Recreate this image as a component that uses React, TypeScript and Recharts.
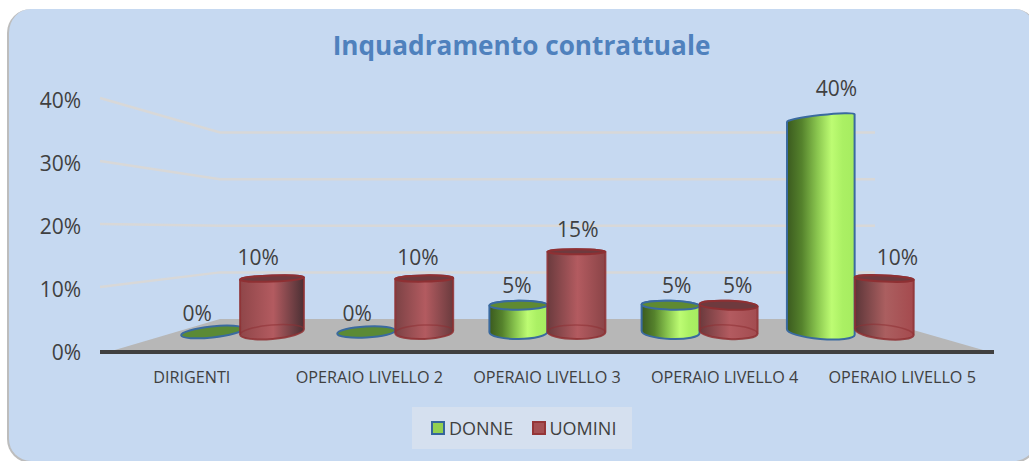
// App.tsx
// "Inquadramento contrattuale" - 3D look cylinders on a tilted floor.
// Front axes carry labels, hidden axes place the bars further back in the scene.

import { BarChart, Bar, CartesianGrid, LabelList, Legend, XAxis, YAxis } from 'recharts';

const CATEGORIES = ['DIRIGENTI', 'OPERAIO LIVELLO 2', 'OPERAIO LIVELLO 3', 'OPERAIO LIVELLO 4', 'OPERAIO LIVELLO 5'];
const DONNE = [0, 0, 5, 5, 40];
const UOMINI = [10, 10, 15, 5, 10];
const Y_TICKS = [0, 10, 20, 30, 40];

const FONT = '"Open Sans", sans-serif';
const TEXT = '#404040';
const SCENE_CENTER = 548;
const FLOOR_BACK_Y = 319;
const AXIS_BOTTOM = 352;

const rows = CATEGORIES.map((name, i) => ({ name, donne: DONNE[i], uomini: UOMINI[i] }));

// red shading moves across the cylinder with the position in the scene
const RED_STOPS = [
  ['#8f4649', '#b35b60', '#4b3034'],
  ['#7c4245', '#b35b60', '#6a3b3e'],
  ['#6b3b3e', '#b35b60', '#8a4447'],
  ['#6b3a3d', '#b35b60', '#a24c50'],
  ['#5c3639', '#ab5f60', '#a54a4e'],
];

function endPoint(cx: number, cy: number, rx: number, deg: number, side: number) {
  const a = (deg * Math.PI) / 180;
  return { x: cx + side * rx * Math.cos(a), y: cy + side * rx * Math.sin(a) };
}

function Cylinder(props: any) {
  const { x, y, width, height, index, kind, value } = props;
  const v = Array.isArray(value) ? value[1] - value[0] : value;
  const d = x + width / 2 - SCENE_CENTER;
  // outer cylinders look a bit wider and further out in the perspective
  let left = x;
  let w = width;
  if (kind === 'donne' && d > 250) {
    left = x - 7;
    w = width + 10;
  } else if (kind === 'uomini' && d > 250) {
    left = x + 3;
    w = width + 1;
  } else if (kind === 'donne' && d < -250) {
    left = x - 4;
    w = width + 4;
  } else if (kind === 'uomini' && d < -250) {
    left = x - 3;
    w = width + 6;
  }
  const cx = left + w / 2;
  const rx = w / 2;
  const topY = y;
  const baseY = y + height;
  const dn = (cx - SCENE_CENTER) / 335;

  const baseTilt = dn * 6;
  const topTilt = v > 30 ? -6.5 : dn * 6 * (1 - v / 17);
  const baseRy = 7;
  const topRy = v > 30 ? 3 : Math.max(2.5, 5.7 - v * 0.26);

  const stroke = kind === 'donne' ? '#3a6a9f' : '#8e3033';
  const capFill = kind === 'donne' ? '#5f8a32' : '#6e3a3e';
  const bodyFill = kind === 'donne' ? 'url(#cyl-green)' : `url(#cyl-red-${index})`;

  if (v === 0) {
    return (
      <ellipse
        cx={cx}
        cy={baseY}
        rx={rx}
        ry={5.5}
        fill="#5b8a35"
        stroke={stroke}
        strokeWidth={2}
        transform={`rotate(${baseTilt} ${cx} ${baseY})`}
      />
    );
  }

  const tl = endPoint(cx, topY, rx, topTilt, -1);
  const tr = endPoint(cx, topY, rx, topTilt, 1);
  const bl = endPoint(cx, baseY, rx, baseTilt, -1);
  const br = endPoint(cx, baseY, rx, baseTilt, 1);

  const body =
    `M${tl.x},${tl.y} A${rx},${topRy} ${topTilt} 0 1 ${tr.x},${tr.y} ` +
    `L${br.x},${br.y} A${rx},${baseRy} ${baseTilt} 0 1 ${bl.x},${bl.y} Z`;
  const backArc = `M${bl.x},${bl.y} A${rx},${baseRy} ${baseTilt} 0 1 ${br.x},${br.y}`;

  return (
    <g>
      <path d={body} fill={bodyFill} stroke={stroke} strokeWidth={2} strokeOpacity={kind === 'donne' ? 1 : 0.85} strokeLinejoin="round" />
      {kind === 'uomini' && <path d={backArc} fill="none" stroke={stroke} strokeOpacity={0.55} strokeWidth={1.5} />}
      {v <= 30 && (
        <ellipse
          cx={cx}
          cy={topY}
          rx={rx}
          ry={topRy}
          fill={capFill}
          stroke={stroke}
          strokeWidth={2}
          transform={`rotate(${topTilt} ${cx} ${topY})`}
        />
      )}
    </g>
  );
}

function ValueLabel(props: any) {
  const { x, y, width, value } = props;
  const cx = x + width / 2;
  return (
    <text
      x={cx + (cx - SCENE_CENTER) * 0.05}
      y={y - (19 + value * 0.28)}
      textAnchor="middle"
      dominantBaseline="central"
      fontFamily={FONT}
      fontSize={21}
      fill={TEXT}
    >
      {value}%
    </text>
  );
}

// Walls and floor of the scene, bent from the front axis to the back plane.
function SceneLine(props: any) {
  const { x1, x2, y1 } = props;
  const backY = FLOOR_BACK_Y - (AXIS_BOTTOM - y1) * 0.74;
  if (y1 >= AXIS_BOTTOM - 1) {
    return <polygon points={`${x1 + 8},${y1} ${x1 + 120},${backY} ${x2 - 119},${backY} ${x2 - 4},${y1}`} fill="#b7b7b7" />;
  }
  return (
    <polyline
      points={`${x1},${y1 - 2} ${x1 + 120},${backY} ${x2 - 119},${backY}`}
      fill="none"
      stroke="#d8d8d8"
      strokeWidth={2.5}
    />
  );
}

function LegendBox({ payload }: any) {
  const colors: Record<string, { fill: string; stroke: string }> = {
    donne: { fill: '#92d04f', stroke: '#35659c' },
    uomini: { fill: '#a55053', stroke: '#953537' },
  };
  return (
    <div
      style={{
        width: 220,
        height: 42,
        background: '#d5e0ef',
        display: 'flex',
        alignItems: 'center',
        paddingLeft: 19,
        boxSizing: 'border-box',
        fontFamily: FONT,
        fontSize: 18,
        color: TEXT,
      }}
    >
      {(payload ?? []).map((p: any) => (
        <span key={p.dataKey} style={{ display: 'flex', alignItems: 'center', width: 101 }}>
          <span
            style={{
              width: 10,
              height: 10,
              marginRight: 4,
              background: colors[p.dataKey].fill,
              border: `2px solid ${colors[p.dataKey].stroke}`,
            }}
          />
          {p.value}
        </span>
      ))}
    </div>
  );
}

export default function App() {
  return (
    <div style={{ position: 'absolute', left: 0, top: 0, width: 1029, height: 461, overflow: 'hidden', background: '#fff' }}>
      <div
        style={{
          position: 'absolute',
          left: 7,
          top: 9,
          width: 1031,
          height: 454,
          background: '#c6d9f1',
          borderLeft: '2px solid #bdbdbd',
          borderRight: '2px solid #bdbdbd',
          borderBottom: '2px solid #bdbdbd',
          borderRadius: 24,
          boxSizing: 'border-box',
        }}
      />
      <div
        style={{
          position: 'absolute',
          left: 0,
          width: 1043,
          top: 27,
          textAlign: 'center',
          fontFamily: FONT,
          fontWeight: 700,
          fontSize: 26.2,
          lineHeight: '36px',
          color: '#4f81bd',
        }}
      >
        Inquadramento contrattuale
      </div>
      <div style={{ position: 'absolute', left: 0, top: 0 }}>
        <BarChart
          width={1029}
          height={461}
          data={rows}
          barSize={58}
          barGap={0}
          margin={{ top: 100, right: 35, bottom: 79, left: 30 }}
        >
          <defs>
            <linearGradient id="cyl-green" x1="0" y1="0" x2="1" y2="0">
              <stop offset="0%" stopColor="#3b5a1f" />
              <stop offset="22%" stopColor="#55822c" />
              <stop offset="45%" stopColor="#8ac64f" />
              <stop offset="66%" stopColor="#bdfc73" />
              <stop offset="82%" stopColor="#abf064" />
              <stop offset="100%" stopColor="#a6ec60" />
            </linearGradient>
            {RED_STOPS.map((s, i) => (
              <linearGradient key={i} id={`cyl-red-${i}`} x1="0" y1="0" x2="1" y2="0">
                <stop offset="0%" stopColor={s[0]} />
                <stop offset="52%" stopColor={s[1]} />
                <stop offset="100%" stopColor={s[2]} />
              </linearGradient>
            ))}
          </defs>
          <CartesianGrid vertical={false} horizontal={(p: any) => <SceneLine key={p.y1} {...p} />} xAxisId="front" yAxisId="front" />
          <XAxis
            xAxisId="front"
            dataKey="name"
            height={30}
            padding={{ left: 3, right: 3 }}
            interval={0}
            tickLine={false}
            tickMargin={13}
            tick={{ fill: TEXT, fontSize: 16.2, fontFamily: FONT }}
            axisLine={{ stroke: '#404040', strokeWidth: 4 }}
          />
          <XAxis xAxisId="scene" dataKey="name" hide padding={{ left: 67, right: 66 }} />
          <YAxis
            yAxisId="front"
            width={70}
            domain={[0, 40]}
            allowDataOverflow
            ticks={Y_TICKS}
            tickFormatter={(v: number) => `${v}%`}
            axisLine={false}
            tickLine={false}
            tickMargin={13}
            tick={{ fill: TEXT, fontSize: 21, fontFamily: FONT, dy: 1 }}
          />
          <YAxis yAxisId="scene" hide domain={[-3.74, 43.37]} allowDataOverflow />
          <Bar
            xAxisId="scene"
            yAxisId="scene"
            dataKey="donne"
            name="DONNE"
            fill="#92d04f"
            isAnimationActive={false}
            shape={(p: any) => <Cylinder {...p} kind="donne" />}
          >
            <LabelList dataKey="donne" content={(p: any) => <ValueLabel {...p} />} />
          </Bar>
          <Bar
            xAxisId="scene"
            yAxisId="scene"
            dataKey="uomini"
            name="UOMINI"
            fill="#a55053"
            isAnimationActive={false}
            shape={(p: any) => <Cylinder {...p} kind="uomini" />}
          >
            <LabelList dataKey="uomini" content={(p: any) => <ValueLabel {...p} />} />
          </Bar>
          <Legend
            layout="horizontal"
            verticalAlign="middle"
            align="center"
            content={(p: any) => <LegendBox {...p} />}
            wrapperStyle={{ left: 412, top: 407, width: 220, height: 42 }}
          />
        </BarChart>
      </div>
    </div>
  );
}
